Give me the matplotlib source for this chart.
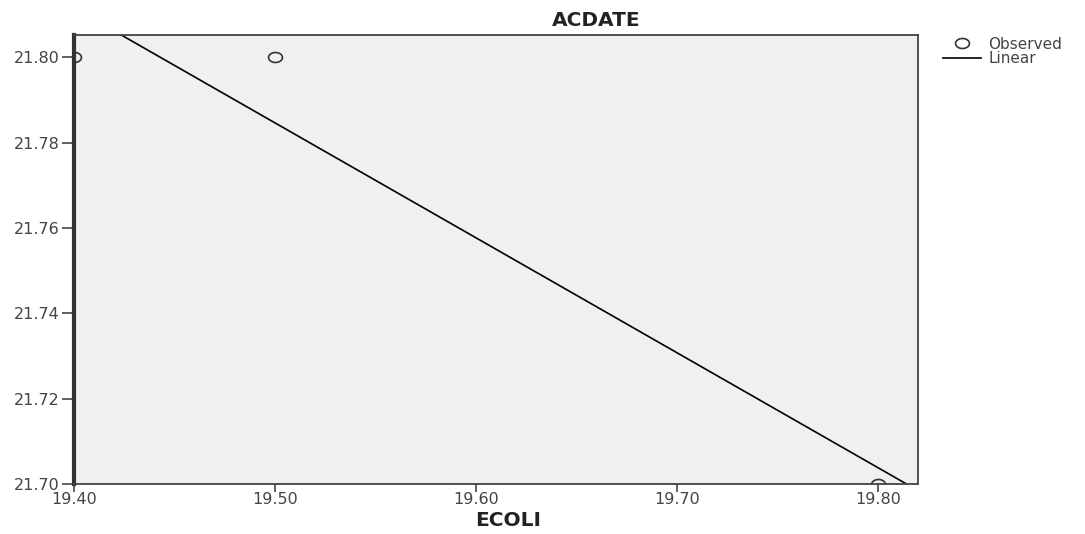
import numpy as np
import matplotlib
matplotlib.use("Agg")
import matplotlib.pyplot as plt
from matplotlib.path import Path

# Observed values (ECOLI vs ACDATE)
ecoli = [19.40, 19.50, 19.80]
acdate = [21.80, 21.80, 21.70]

x_ticks = [19.40, 19.50, 19.60, 19.70, 19.80]
y_ticks = [21.70, 21.72, 21.74, 21.76, 21.78, 21.80]

plt.rcParams['font.family'] = ['DejaVu Sans']

fig = plt.figure(figsize=(10.85, 5.34), dpi=100)
ax = fig.add_axes([74 / 1085, 1 - 484 / 534, (918 - 74) / 1085, (484 - 35) / 534])
ax.set_facecolor('#f0f0f0')

x_min, x_max = 19.40, 19.82
y_min, y_max = 21.70, 21.8052

# slightly wide open circle, like the stretched original
t = np.linspace(0, 2 * np.pi, 60)
ellipse = Path(np.column_stack([np.cos(t), 0.72 * np.sin(t)]))

# linear fit line across the whole x range
slope, intercept = np.polyfit(ecoli, acdate, 1)
xs = np.array([x_min, x_max])
ax.plot(xs, slope * xs + intercept, color='black', lw=1.2, label='Linear')

ax.plot(ecoli, acdate, linestyle='none', marker=ellipse, markersize=10,
        markerfacecolor='none', markeredgecolor='#333333', markeredgewidth=1.2,
        label='Observed')

ax.set_xlim(x_min, x_max)
ax.set_ylim(y_min, y_max)
ax.set_xticks(x_ticks)
ax.set_xticklabels([f'{v:.2f}' for v in x_ticks])
ax.set_yticks(y_ticks)
ax.set_yticklabels([f'{v:.2f}' for v in y_ticks])

for name, sp in ax.spines.items():
    sp.set_color('#444444')
    sp.set_linewidth(1.3)
ax.spines['left'].set_linewidth(3)
ax.spines['left'].set_color('#333333')

ax.tick_params(axis='y', direction='out', length=9, width=1.2, color='#444444',
               labelsize=11.5, labelcolor='#444444', pad=1)
ax.tick_params(axis='x', direction='out', length=6, width=1.2, color='#444444',
               labelsize=11.5, labelcolor='#444444', pad=0)

fig.text(596 / 1085, 1 - 20 / 534, 'ACDATE', ha='center', va='center',
         fontsize=14.5, fontweight='bold', color='#222222')
fig.text(508 / 1085, 1 - 521 / 534, 'ECOLI', ha='center', va='center',
         fontsize=14.5, fontweight='bold', color='#222222')

handles, labels = ax.get_legend_handles_labels()
leg = fig.legend([handles[1], handles[0]], [labels[1], labels[0]],
                 loc='upper left', bbox_to_anchor=(935 / 1085, 1 - 29 / 534),
                 frameon=False, fontsize=11, handlelength=2.5,
                 handletextpad=0.5, labelspacing=-0.05, borderpad=0)
for t in leg.get_texts():
    t.set_color('#444444')

fig.savefig('out.png', dpi=100)
